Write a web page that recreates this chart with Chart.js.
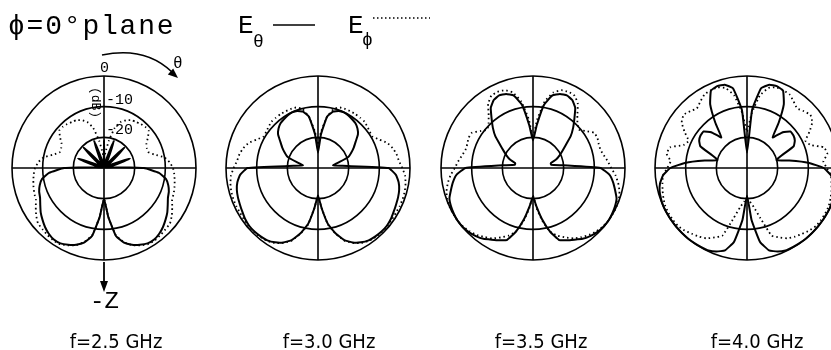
<!DOCTYPE html>
<html>
<head>
<meta charset="utf-8">
<script src="https://cdn.jsdelivr.net/npm/chart.js@4.4.1/dist/chart.umd.min.js"></script>
<style>
body { margin: 0; background: #fff; }
#page { position: relative; width: 831px; height: 350px; overflow: hidden; color: #000; font-family: 'Liberation Mono', monospace; }
.plot { position: absolute; top: 68px; width: 200px; height: 200px; }
.t { position: absolute; white-space: nowrap; line-height: 1; }
.freq { position: absolute; top: 331px; font-family: 'DejaVu Sans Condensed', sans-serif; font-size: 20px; line-height: 1; white-space: nowrap; transform: translateX(-50%); }
svg { position: absolute; left: 0; top: 0; }
</style>
</head>
<body>
<div id="page">
  <canvas id="p0" class="plot" width="200" height="200" style="left:4px"></canvas>
  <canvas id="p1" class="plot" width="200" height="200" style="left:218px"></canvas>
  <canvas id="p2" class="plot" width="200" height="200" style="left:433px"></canvas>
  <canvas id="p3" class="plot" width="200" height="200" style="left:647px"></canvas>

  <svg width="831" height="350">
    <path d="M102 55 Q145 46 172 72" fill="none" stroke="#000" stroke-width="1.6"/>
    <polygon points="178,78 167.8,74.4 173.2,68.4" fill="#000"/>
    <line x1="104" y1="262" x2="104" y2="285" stroke="#000" stroke-width="1.8"/>
    <polygon points="104,292 100,281 108,281" fill="#000"/>
    <line x1="273" y1="25" x2="315" y2="25" stroke="#000" stroke-width="1.5"/>
    <line x1="373" y1="18" x2="430" y2="18" stroke="#000" stroke-width="1.5" stroke-dasharray="1.5 2.5"/>
  </svg>

  <div class="t" style="left:8px;top:13px;font-size:28px;letter-spacing:1.8px">ϕ=0°plane</div>
  <div class="t" style="left:238px;top:13px;font-size:26px">E</div>
  <div class="t" style="left:253px;top:33px;font-size:18px">θ</div>
  <div class="t" style="left:348px;top:13px;font-size:26px">E</div>
  <div class="t" style="left:362px;top:31px;font-size:18px">ϕ</div>

  <div class="t" style="left:100px;top:61px;font-size:15px">0</div>
  <div class="t" style="left:106px;top:93px;font-size:15px">-10</div>
  <div class="t" style="left:106px;top:123px;font-size:15px">-20</div>
  <div class="t" style="left:80px;top:96px;font-size:13px;transform:rotate(90deg)">(dB)</div>
  <div class="t" style="left:173px;top:56px;font-size:16px">θ</div>
  <div class="t" style="left:90px;top:290px;font-size:24px">-Z</div>

  <div id="freqs"></div>
</div>

<script>
// theta from 0 (top) to 180 deg in 5 deg steps, pattern is mirrored for the other side
const thetaDeg = [0,5,10,15,20,25,30,35,40,45,50,55,60,65,70,75,80,85,90,95,100,105,110,115,120,125,130,135,140,145,150,155,160,165,170,175,180];

const freqLabels = ['f=2.5 GHz', 'f=3.0 GHz', 'f=3.5 GHz', 'f=4.0 GHz'];
const freqCenters = [116, 329, 541, 757];

// E_theta (solid), dB
const eTheta25 = [-21,-29,-29.5,-27,-20.5,-27,-29.5,-29.5,-27,-20.5,-27,-29.5,-29.5,-27,-21,-27,-29.5,-27,-17,-12,-9.5,-8.3,-7.5,-7,-6,-4.8,-3.8,-2.8,-2,-1.5,-1.6,-2.4,-3.4,-4.8,-7.5,-14,-20];
const eTheta30 = [-25,-19,-13,-11,-10.2,-10,-10.2,-10.6,-11,-11.8,-13,-15,-16.5,-18,-19.5,-23,-25,-22,-7,-4.5,-3.3,-2.6,-2.2,-1.9,-1.5,-1,-0.7,-0.7,-0.9,-1.2,-2,-3.2,-5,-8,-11.5,-17,-21];
const eTheta35 = [-21,-16,-9,-5.5,-4.3,-3.9,-4.4,-6,-9,-11.5,-14,-17,-19,-20.5,-22,-24,-24,-20,-8,-5,-3.5,-2.3,-1,-0.5,-0.2,0,-0.1,-0.4,-1,-1.8,-3,-4,-5,-8.5,-13,-17.5,-20.7];
const eTheta40 = [-25,-11,-3.6,-1.9,-1.6,-2.2,-6,-12,-17,-13.5,-11.5,-11.5,-12,-13.2,-18,-20,-16,-10,-5,-2.5,-1.2,-0.5,-0.2,0,0,0,0,0,0,-0.1,-0.2,-0.3,-1,-2.2,-5.5,-13,-21];

// E_phi (dotted), dB
const ePhi25 = [-27,-25,-21,-16.5,-14,-12.8,-12,-11.7,-11.3,-11,-11,-12.5,-14,-14.6,-14.7,-13,-10,-8.5,-7.5,-7,-6.6,-6.2,-5.8,-5.5,-4.3,-3,-1.9,-1.7,-1.4,-1.2,-1.3,-2.2,-3.2,-5,-7.7,-14,-20];
const ePhi30 = [-22,-18,-13,-10,-9,-8.8,-8.7,-8.6,-8.6,-8.6,-9,-9.4,-9.5,-8,-6,-4.8,-4,-3.5,-2.5,-1.5,-1,-0.7,-0.6,-0.6,-0.7,-0.6,-0.5,-0.5,-0.7,-1,-1.8,-3,-4.8,-7.8,-11.3,-17,-21];
const ePhi35 = [-20,-14,-8,-4.5,-3,-2.6,-2.8,-4.5,-7.5,-9.5,-10.5,-9,-7,-6.8,-7.2,-7.2,-6.5,-5.5,-4.5,-3,-1.8,-0.8,-0.2,0,0,0,-0.3,-0.8,-1.5,-2.5,-3.5,-5,-6.5,-8.5,-12.5,-17,-21];
const ePhi40 = [-18,-12,-6,-3,-2,-2,-2.3,-3.5,-4.6,-3.8,-3,-4,-6.5,-9,-8,-4,-3.4,-5,-4,-2.5,-2,-1.5,-1,-0.6,-0.5,-0.5,-0.6,-1.2,-2,-2.7,-3.5,-5,-6.5,-13,-17,-19,-20];

const solidSets = [eTheta25, eTheta30, eTheta35, eTheta40];
const dottedSets = [ePhi25, ePhi30, ePhi35, ePhi40];

// 0..180 then 185..355 (same as 175..5)
function mirror(half) {
    return half.concat(half.slice(1, half.length - 1).reverse());
}
const thetaLabels = mirror(thetaDeg).map((d, i) => i < thetaDeg.length ? d : 360 - d);

function makePolar(id, solid, dotted) {
    new Chart(document.getElementById(id), {
        type: 'radar',
        data: {
            labels: thetaLabels,
            datasets: [{
                data: mirror(solid),
                borderColor: '#000',
                borderWidth: 2,
                pointRadius: 0,
                fill: false,
                tension: 0.12,
                clip: false
            }, {
                data: mirror(dotted),
                borderColor: '#000',
                borderWidth: 1.8,
                borderDash: [1.5, 3],
                pointRadius: 0,
                fill: false,
                tension: 0.12,
                clip: false
            }]
        },
        options: {
            responsive: false,
            animation: false,
            events: [],
            layout: { padding: 8 },
            plugins: { legend: { display: false }, tooltip: { enabled: false } },
            scales: {
                r: {
                    min: -30,
                    max: 0,
                    ticks: { display: false, stepSize: 10 },
                    pointLabels: { display: false },
                    grid: { circular: true, color: '#000', lineWidth: 1.6 },
                    angleLines: {
                        color: '#000',
                        lineWidth: c => (c.index % 18 === 0 ? 1.6 : 0)
                    }
                }
            }
        }
    });
}

for (let i = 0; i < 4; i++) {
    makePolar('p' + i, solidSets[i], dottedSets[i]);
}

const freqBox = document.getElementById('freqs');
freqLabels.forEach((txt, i) => {
    const el = document.createElement('div');
    el.className = 'freq';
    el.style.left = freqCenters[i] + 'px';
    el.textContent = txt;
    freqBox.appendChild(el);
});
</script>
</body>
</html>
